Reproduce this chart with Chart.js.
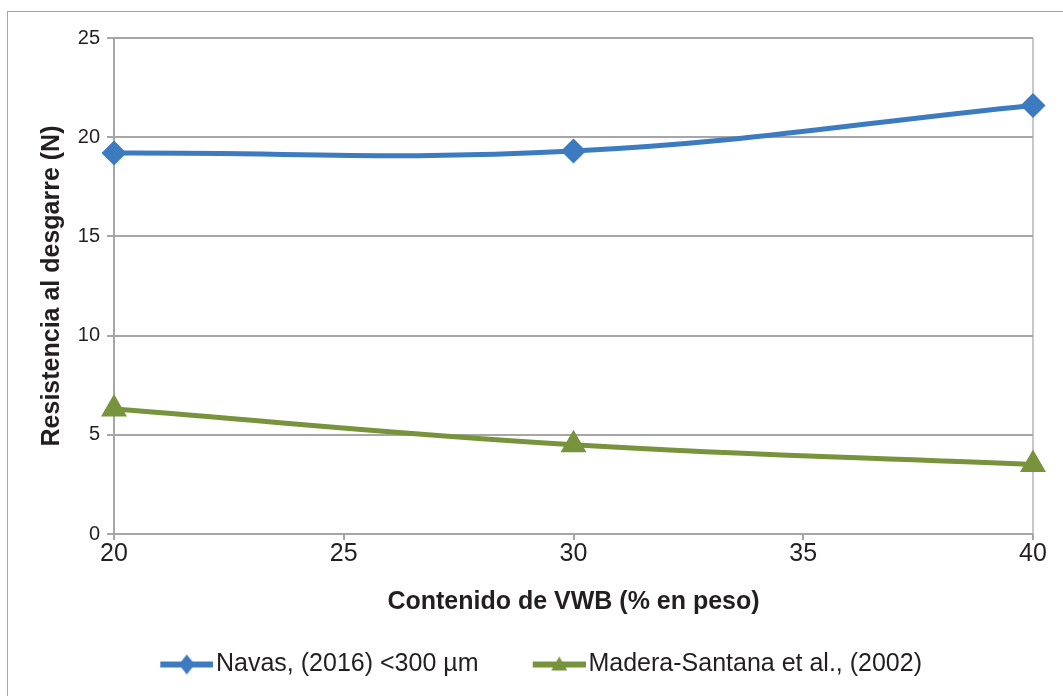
<!DOCTYPE html>
<html>
<head>
<meta charset="utf-8">
<script src="https://cdn.jsdelivr.net/npm/chart.js@4/dist/chart.umd.min.js"></script>
<style>
  body { margin: 0; background: #fff; }
  #wrap { position: relative; width: 1063px; height: 696px; }
  #frame { position: absolute; left: 7px; top: 11px; width: 1100px; height: 720px; border: 1px solid #a6a6a6; box-sizing: border-box; pointer-events: none; }
</style>
</head>
<body>
<div id="wrap">
  <canvas id="chart" width="1063" height="696"></canvas>
  <div id="frame"></div>
</div>
<script>
// values
const vwbContent = [20, 30, 40];
const navasValues = [19.2, 19.3, 21.6];
const maderaValues = [6.3, 4.5, 3.5];
const seriesNames = ['Navas, (2016) <300 µm', 'Madera-Santana et al., (2002)'];
const xTicks = [20, 25, 30, 35, 40];
const yTicks = [0, 5, 10, 15, 20, 25];

const blue = '#3c7bc0';
const green = '#77933c';
const gridGray = '#a6a6a6';
const textColor = '#231f20';
const fontFamily = 'Liberation Sans, Arial, sans-serif';

// legend swatch: line with marker in the middle, like the original
// (left part is transparent so the items sit further apart)
function legendSwatch(color, shape) {
    const c = document.createElement('canvas');
    c.width = 82;
    c.height = 22;
    const ctx = c.getContext('2d');
    const x0 = 29, x1 = 82, mid = (x0 + x1) / 2;
    ctx.strokeStyle = color;
    ctx.lineWidth = 6;
    ctx.beginPath();
    ctx.moveTo(x0, 11);
    ctx.lineTo(x1, 11);
    ctx.stroke();
    ctx.fillStyle = color;
    ctx.beginPath();
    if (shape === 'diamond') {
        ctx.moveTo(mid, 1); ctx.lineTo(mid + 8, 11); ctx.lineTo(mid, 21); ctx.lineTo(mid - 8, 11);
    } else {
        ctx.moveTo(mid, 3); ctx.lineTo(mid + 8, 17); ctx.lineTo(mid - 8, 17);
    }
    ctx.closePath();
    ctx.fill();
    return c;
}

function toPoints(values) {
    return vwbContent.map((x, i) => ({ x: x, y: values[i] }));
}

const ctx = document.getElementById('chart').getContext('2d');
const chart = new Chart(ctx, {
    type: 'line',
    data: {
        datasets: [{
            label: seriesNames[0],
            data: toPoints(navasValues),
            borderColor: blue,
            backgroundColor: blue,
            borderWidth: 5,
            pointStyle: 'rectRot',
            pointRadius: 9,
            tension: 0.4,
            clip: false,
            legendSwatch: legendSwatch(blue, 'diamond')
        }, {
            label: seriesNames[1],
            data: toPoints(maderaValues),
            borderColor: green,
            backgroundColor: green,
            borderWidth: 5,
            pointStyle: 'triangle',
            pointRadius: 10,
            tension: 0.4,
            clip: false,
            legendSwatch: legendSwatch(green, 'triangle')
        }]
    },
    options: {
        responsive: false,
        animation: false,
        layout: { padding: { left: 30, right: 30, top: 38, bottom: 9 } },
        plugins: {
            tooltip: { enabled: false },
            legend: {
                position: 'bottom',
                labels: {
                    usePointStyle: true,
                    pointStyleWidth: 62.5,
                    padding: 35,
                    color: textColor,
                    font: { family: fontFamily, size: 25 },
                    generateLabels: function(chart) {
                        return chart.data.datasets.map((ds, i) => ({
                            text: ds.label,
                            pointStyle: ds.legendSwatch,
                            fillStyle: ds.borderColor,
                            strokeStyle: ds.borderColor,
                            lineWidth: 0,
                            fontColor: textColor,
                            datasetIndex: i
                        }));
                    }
                }
            }
        },
        scales: {
            x: {
                type: 'linear',
                min: 20,
                max: 40,
                afterBuildTicks: function(scale) {
                    scale.ticks = xTicks.map(v => ({ value: v }));
                },
                afterFit: function(scale) { scale.height = 83; },
                border: { display: false },
                grid: {
                    color: function(c) {
                        return (c.index === xTicks.length - 1) ? '#c8c8c8' : 'rgba(0,0,0,0)';
                    },
                    tickColor: gridGray,
                    tickLength: 6,
                    lineWidth: 2
                },
                ticks: {
                    color: textColor,
                    padding: 2,
                    font: { family: fontFamily, size: 25, lineHeight: 1 }
                },
                title: {
                    display: true,
                    text: 'Contenido de VWB (% en peso)',
                    color: textColor,
                    padding: { top: 0, bottom: 0 },
                    font: { family: fontFamily, size: 25, weight: 'bold' }
                }
            },
            y: {
                min: 0,
                max: 25,
                afterBuildTicks: function(scale) {
                    scale.ticks = yTicks.map(v => ({ value: v }));
                },
                afterFit: function(scale) { scale.width = 84; },
                border: { display: true, color: gridGray, width: 2 },
                grid: {
                    color: gridGray,
                    tickColor: gridGray,
                    tickLength: 7,
                    lineWidth: 2
                },
                ticks: {
                    color: textColor,
                    padding: 7,
                    font: { family: fontFamily, size: 20 }
                },
                title: {
                    display: true,
                    text: 'Resistencia al desgarre (N)',
                    color: textColor,
                    padding: { top: 7, bottom: 0 },
                    font: { family: fontFamily, size: 25, weight: 'bold' }
                }
            }
        }
    }
});
</script>
</body>
</html>
